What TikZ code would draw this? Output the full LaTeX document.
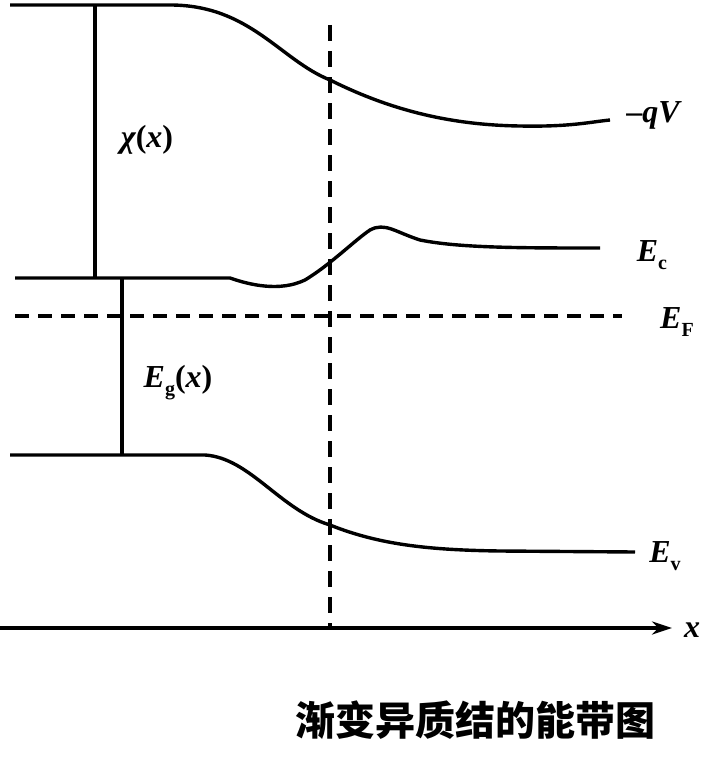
\documentclass[tikz,border=0pt]{standalone}
\usepackage{fontspec}
\setmainfont{Liberation Serif}
\newfontfamily\cjk{Noto Sans CJK SC}
\usetikzlibrary{arrows.meta}
\newcommand{\sbs}[1]{\raisebox{-0.25em}{\upshape\fontsize{20}{22}\selectfont #1}}
\begin{document}
\begin{tikzpicture}[x=1pt,y=-1pt,
  band/.style={line width=3.4pt},
  lab/.style={font=\fontsize{32}{34}\selectfont\bfseries\itshape, anchor=center}]
\useasboundingbox (0,0) rectangle (718,760);
% vacuum level
\draw[band] (10,5) -- (170,5) .. controls (250,5) and (280,60) .. (330,80)
  .. controls (390,110) and (450,125) .. (520,126) .. controls (570,127) and (590,122) .. (610,120);
% chi
\draw[band] (95,5) -- (95,278);
\node[lab] (chi) at (147,140) {χ\upshape(\itshape x\upshape)};
% Ec
\draw[band] (15,278) -- (230,278) .. controls (250,285) and (280,292) .. (305,280)
  .. controls (330,265) and (355,240) .. (370,230) .. controls (385,222) and (395,232) .. (420,240)
  .. controls (460,248) and (520,248) .. (600,248);
\node[lab] (ec) at (652,255) {E\sbs{c}};
% EF
\draw[band,dash pattern=on 14pt off 9pt] (15,316) -- (622,316);
\node[lab] (ef) at (677,322) {E\sbs{F}};
% Eg
\draw[band] (122,278) -- (122,455);
\node[lab] (eg) at (178,383) {E\sbs{g}\upshape(\itshape x\upshape)};
% Ev
\draw[band] (10,455) -- (205,455) .. controls (250,458) and (280,510) .. (330,525)
  .. controls (380,545) and (430,550) .. (500,551) -- (635,552);
\node[lab] (ev) at (665,556) {E\sbs{v}};
\node[lab] (qv) at (653,115) {\upshape –\itshape qV};
% interface
\draw[band,dash pattern=on 16pt off 10pt] (330,25) -- (330,630);
% axis
\coordinate (a0) at (0,628);
\coordinate (a1) at (672,628);
\draw[band,-{Stealth[length=20pt,width=13pt]}] (a0) -- (a1);
\node[lab] (x) at (692,630) {x};
\node[font=\cjk\bfseries\fontsize{40}{42}\selectfont] (cap) at (475,720) {渐变异质结的能带图};
\end{tikzpicture}
\end{document}
